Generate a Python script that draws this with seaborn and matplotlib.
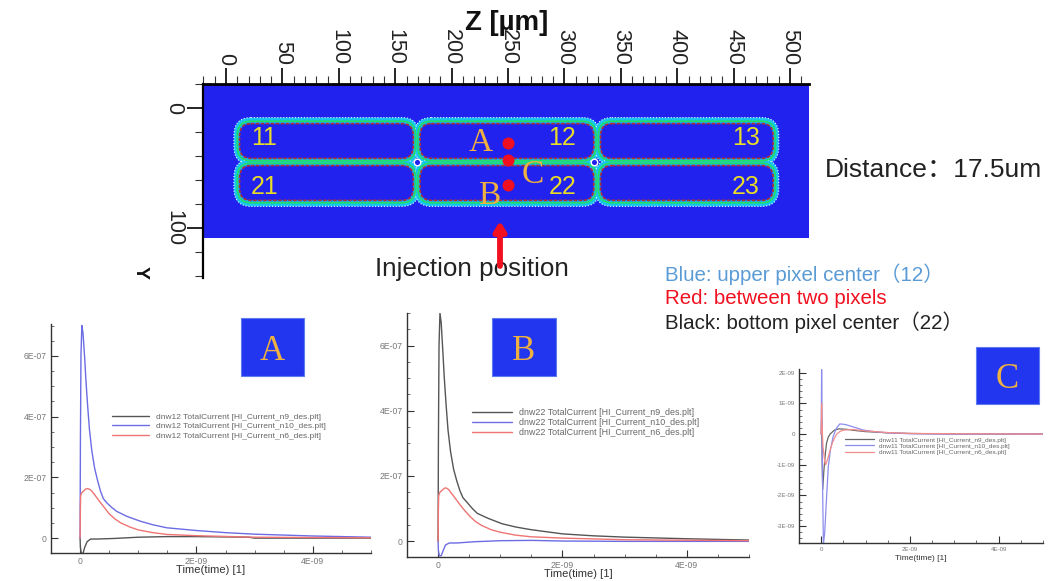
import pandas as pd
import matplotlib.pyplot as plt
import seaborn as sns
from matplotlib.patches import FancyBboxPatch, Rectangle
from matplotlib.ticker import MultipleLocator, FixedLocator, FixedFormatter

W, H = 1051, 581

# top map
z_major = [0, 50, 100, 150, 200, 250, 300, 350, 400, 450, 500]
y_major = [0, 100]
pixel_z = [(13, 165), (173, 325), (333, 484)]
pixel_y = [(14, 41), (49, 76)]
pixel_names = [['11', '12', '13'], ['21', '22', '23']]
name_z = [34, 298, 461]
name_y = [25, 66]
dots_z = [250, 250, 250]
dots_y = [29, 43, 64]
holes_z = [169, 326.5]
holes_y = [45, 45]
letters = ['A', 'C', 'B']
letters_z = [226, 272, 233]
letters_y = [29, 56, 73]

# curves, time in ns, current in 1E-7 A
a_t_blue = [0, .005, .015, .03, .05, .08, .1, .13, .16, .2, .25, .3, .35, .4, .46, .55, .63, .8, 1.03, 1.25, 1.49, 2, 2.5, 3, 4, 5]
a_blue = [0, 3, 6, 7, 6.75, 5.9, 5.2, 4.35, 3.6, 2.9, 2.3, 1.9, 1.55, 1.3, 1.16, 1, .88, .72, .56, .44, .34, .25, .18, .13, .07, .03]
a_t_red = [0, .005, .01, .03, .06, .1, .13, .17, .2, .25, .3, .35, .4, .5, .6, .7, .85, 1, 1.25, 1.5, 2, 3, 5]
a_red = [0, 1, 1.4, 1.5, 1.55, 1.62, 1.63, 1.6, 1.55, 1.43, 1.3, 1.17, 1.05, .8, .63, .5, .37, .27, .18, .12, .08, .03, .01]
a_t_black = [0, .005, .02, .05, .08, .12, .18, .3, .6, 1, 1.5, 2, 2.9, 3, 5]
a_black = [0, -.3, -.5, -.5, -.3, -.12, -.03, -.03, -.01, .03, .05, .05, .03, 0, 0]

b_t_black = [0, .005, .015, .03, .05, .08, .1, .13, .16, .2, .25, .3, .35, .4, .46, .55, .63, .8, 1.03, 1.25, 1.49, 2, 2.5, 3, 4, 5]
b_black = [0, 3, 6, 7, 6.7, 5.7, 5, 4.15, 3.4, 2.75, 2.2, 1.85, 1.55, 1.33, 1.2, 1, .85, .7, .53, .43, .35, .22, .16, .12, .07, .03]
b_t_red = [0, .005, .01, .03, .06, .1, .13, .17, .2, .25, .3, .35, .4, .5, .6, .7, .85, 1, 1.25, 1.5, 2, 3, 5]
b_red = [0, 1, 1.4, 1.5, 1.55, 1.62, 1.63, 1.58, 1.5, 1.38, 1.25, 1.12, 1, .78, .6, .48, .35, .27, .18, .13, .09, .04, .01]
b_t_blue = [0, .005, .02, .05, .08, .12, .18, .3, .6, 1, 1.5, 2, 3, 5]
b_blue = [0, -.3, -.45, -.45, -.3, -.12, -.06, -.06, -.02, .01, .02, .0, -.01, -.01]

c_t_blue = [0, .01, .02, .03, .05, .08, .12, .16, .21, .27, .34, .42, .5, .57, .75, .95, 1.25, 1.5, 2, 3, 5]
c_blue = [0, 21, 5, -15, -36, -32, -21, -10.7, -5, -.8, 1.8, 3.3, 3.2, 3, 2.2, 1.3, .7, .4, .1, 0, 0]
c_t_black = [0, .01, .02, .035, .06, .09, .12, .16, .2, .3, .4, .6, .8, 1, 1.5, 2, 3, 5]
c_black = [0, 5, -8, -18, -12, -7, -3, -1, 0, 1.3, 1.7, 1.5, 1.1, .8, .4, .2, 0, 0]
c_t_red = [0, .01, .02, .04, .08, .1, .15, .2, .25, .3, .35, .42, .5, .7, 1, 1.5, 2, 3, 5]
c_red = [0, 10, 3, -4, -9, -10, -8, -5.3, -3, -1.3, 0, .8, 1.3, 1.5, 1, .5, .2, .1, 0]

sns.set_theme(style='white')
plt.rcParams['font.family'] = ['Liberation Sans', 'Noto Sans CJK SC']

fig = plt.figure(figsize=(W / 100, H / 100), dpi=100)


def box_axes(left, top, right, bottom):
    return fig.add_axes([left / W, 1 - bottom / H, (right - left) / W, (bottom - top) / H])


def make_frame(series):
    rows = []
    for label, t, v, scale in series:
        rows.append(pd.DataFrame({'time': [x * 1e-9 for x in t], 'current': [x * scale for x in v], 'curve': label}))
    return pd.concat(rows, ignore_index=True)


def current_panel(box, series, colors, ylim, minor, yticks, yticklabels, legend_xy, tick_font, legend_font,
                  label_font, spacing, pad, lw):
    ax = box_axes(*box)
    df = make_frame(series)
    labels = [s[0] for s in series]
    sns.lineplot(data=df, x='time', y='current', hue='curve', hue_order=labels,
                 palette=dict(zip(labels, colors)), estimator=None, sort=False, lw=lw, ax=ax)
    ax.set_xlim(-.5e-9, 5e-9)
    ax.set_ylim(*ylim)
    sns.despine(ax=ax)
    for side in ['left', 'bottom']:
        ax.spines[side].set_color('#333333')
        ax.spines[side].set_linewidth(1.0)
    ax.xaxis.set_major_locator(FixedLocator([0, 2e-9, 4e-9]))
    ax.xaxis.set_major_formatter(FixedFormatter(['0', '2E-09', '4E-09']))
    ax.xaxis.set_minor_locator(MultipleLocator(.5e-9))
    ax.yaxis.set_major_locator(FixedLocator(yticks))
    ax.yaxis.set_major_formatter(FixedFormatter(yticklabels))
    ax.yaxis.set_minor_locator(MultipleLocator(minor))
    ax.tick_params(which='major', direction='in', length=5, width=.8, color='#333333',
                   labelsize=tick_font, labelcolor='#777777', pad=3, left=True, bottom=True)
    ax.tick_params(which='minor', direction='in', length=2.5, width=.6, color='#555555', left=True, bottom=True)
    ax.set_xlabel('Time(time) [1]', fontsize=label_font, color='#333333', labelpad=pad)
    ax.set_ylabel('')
    handles, names = ax.get_legend_handles_labels()
    ax.legend(handles, names, loc='upper left', bbox_to_anchor=(legend_xy[0] / W, 1 - legend_xy[1] / H),
              bbox_transform=fig.transFigure, frameon=False, fontsize=legend_font, handlelength=4.45,
              handletextpad=.85, labelspacing=spacing, borderpad=0, borderaxespad=0, labelcolor='#666666')
    return ax


# map panel
ax = box_axes(203, 84, 809, 278)
ax.set_xlim(-20.4, 516.8)
ax.set_ylim(141.7, -20)
ax.add_patch(Rectangle((-20.4, -20), 537.2, 128, color='#2222ee', lw=0, zorder=0))

# cyan halo round the pixels, then the ring lines, one whole layer at a time
layers = [
    (6.0, '#16c4f0', '#e8ffff', ':', .8),
    (3.0, '#18b4f0', '#22dd66', '-', 1.2),
    (1.0, '#2222ee', '#b03030', (0, (2, 1)), 1.2),
]
for level, (pad, face, edge, style, width) in enumerate(layers):
    for (z0, z1) in pixel_z:
        for (y0, y1) in pixel_y:
            ax.add_patch(FancyBboxPatch((z0, y0), z1 - z0, y1 - y0,
                                        boxstyle=f'round,pad={pad},rounding_size={9 + pad}',
                                        fc=face, ec=edge, ls=style, lw=width, zorder=2 + level))

sns.scatterplot(x=holes_z, y=holes_y, color='#2222ee', edgecolor='white', s=22, linewidth=1, ax=ax, zorder=5)
for row, y in zip(pixel_names, name_y):
    for name, z in zip(row, name_z):
        ax.text(z, y, name, color='#e8dc28', fontsize=18, ha='center', va='center', zorder=6)
sns.scatterplot(x=dots_z, y=dots_y, color='#f01020', s=75, linewidth=0, ax=ax, zorder=7)
for name, z, y in zip(letters, letters_z, letters_y):
    ax.text(z, y, name, color='#eeb040', fontsize=24, family='Liberation Serif', ha='center', va='center', zorder=7)

ax.xaxis.tick_top()
ax.xaxis.set_major_locator(FixedLocator(z_major))
ax.xaxis.set_minor_locator(MultipleLocator(10))
ax.yaxis.set_major_locator(FixedLocator(y_major))
ax.yaxis.set_minor_locator(MultipleLocator(20))
ax.tick_params(which='major', direction='out', length=11.5, width=1.2, color='black', labelsize=15.5, pad=2,
               labelcolor='#222222', top=True, left=True)
ax.tick_params(which='minor', direction='out', length=6, width=.8, color='#333333', top=True, left=True)
for t in ax.get_xticklabels():
    t.set_rotation(-90)
    t.set_va('bottom')
    t.set_ha('center')
for t in ax.get_yticklabels():
    t.set_rotation(-90)
    t.set_va('center')
    t.set_ha('right')
for side in ['right', 'bottom']:
    ax.spines[side].set_visible(False)
ax.spines['top'].set_linewidth(2)
ax.spines['top'].set_color('black')
ax.spines['left'].set_linewidth(1.6)
ax.spines['left'].set_color('black')

# current panels
current_panel((51, 324, 371, 553),
              [('dnw12 TotalCurrent [HI_Current_n9_des.plt]', a_t_black, a_black, 1e-7),
               ('dnw12 TotalCurrent [HI_Current_n10_des.plt]', a_t_blue, a_blue, 1e-7),
               ('dnw12 TotalCurrent [HI_Current_n6_des.plt]', a_t_red, a_red, 1e-7)],
              ['#555555', '#6c6ce4', '#f07474'], (-.49e-7, 7.05e-7), .5e-7,
              [0, 2e-7, 4e-7, 6e-7], ['0', '2E-07', '4E-07', '6E-07'], (112, 413), 6.2, 6.0, 8.1, .2, -.5, 1.0)
current_panel((407, 313, 749, 557),
              [('dnw22 TotalCurrent [HI_Current_n9_des.plt]', b_t_black, b_black, 1e-7),
               ('dnw22 TotalCurrent [HI_Current_n10_des.plt]', b_t_blue, b_blue, 1e-7),
               ('dnw22 TotalCurrent [HI_Current_n6_des.plt]', b_t_red, b_red, 1e-7)],
              ['#555555', '#6c6ce4', '#f07474'], (-.49e-7, 7.0e-7), .5e-7,
              [0, 2e-7, 4e-7, 6e-7], ['0', '2E-07', '4E-07', '6E-07'], (472, 408), 6.2, 6.4, 8.0, .12, -.8, 1.0)
current_panel((799, 369, 1043, 543),
              [('dnw11 TotalCurrent [HI_Current_n9_des.plt]', c_t_black, c_black, 1e-10),
               ('dnw11 TotalCurrent [HI_Current_n10_des.plt]', c_t_blue, c_blue, 1e-10),
               ('dnw11 TotalCurrent [HI_Current_n6_des.plt]', c_t_red, c_red, 1e-10)],
              ['#666666', '#8c8cec', '#f48c8c'], (-3.55e-9, 2.12e-9), .2e-9,
              [-3e-9, -2e-9, -1e-9, 0, 1e-9, 2e-9], ['-3E-09', '-2E-09', '-1E-09', '0', '1E-09', '2E-09'],
              (845, 437), 4.4, 4.65, 6, .11, 2, .9)

# everything placed by pixel on top of the panels
canvas = fig.add_axes([0, 0, 1, 1], facecolor='none')
canvas.set_xlim(0, W)
canvas.set_ylim(H, 0)
canvas.axis('off')

canvas.text(507, 23, 'Z [µm]', fontsize=19.9, fontweight='bold', ha='center', va='center', color='#111111')
canvas.text(140, 272, 'Y', fontsize=14, fontweight='bold', rotation=-90, ha='center', va='center', color='#111111')
canvas.text(825, 170, 'Distance：17.5um', fontsize=19, ha='left', va='center', color='#222222')
canvas.text(375, 269, 'Injection position', fontsize=18.7, ha='left', va='center', color='#222222')
canvas.annotate('', xy=(500, 221), xytext=(500, 266),
                arrowprops=dict(arrowstyle='-|>,head_width=.28,head_length=.45', color='#f01020', lw=4.2, shrinkA=0, shrinkB=0))
canvas.text(665, 274, 'Blue: upper pixel center（12）', fontsize=14.8, color='#5b9bd5', ha='left', va='center')
canvas.text(665, 298, 'Red: between two pixels', fontsize=14.8, color='#f01020', ha='left', va='center')
canvas.text(665, 322, 'Black: bottom pixel center（22）', fontsize=14.8, color='#222222', ha='left', va='center')

for name, x0, x1, y0, y1 in [('A', 241, 304, 318, 376), ('B', 492, 556, 318, 376), ('C', 976, 1039, 347, 404)]:
    canvas.add_patch(Rectangle((x0, y0), x1 - x0, y1 - y0, fc='#2236f0', ec='#5c7cf0', lw=.8))
    canvas.text((x0 + x1) / 2, (y0 + y1) / 2 + 4, name, color='#eeb040', fontsize=25,
                family='Liberation Serif', ha='center', va='center')

fig.savefig('out.png', dpi=100)
